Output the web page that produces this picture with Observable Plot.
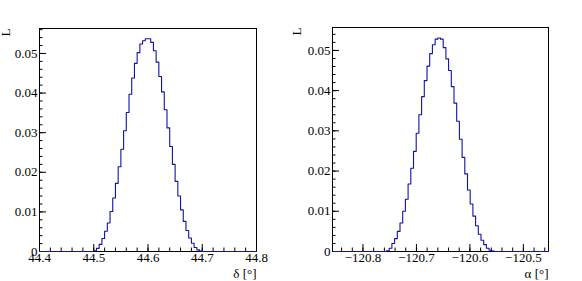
<!DOCTYPE html>
<html><head><meta charset="utf-8">
<script src="https://cdn.jsdelivr.net/npm/d3@7"></script>
<script src="https://cdn.jsdelivr.net/npm/@observablehq/plot@0.6"></script>
<style>
html,body{margin:0;padding:0;background:#fff;}
#wrap{display:flex;width:582px;height:281px;overflow:hidden;}
#wrap svg{display:block;font-family:"Liberation Serif","Times New Roman",serif !important;font-size:13px !important;}
#wrap svg text{font-family:"Liberation Serif","Times New Roman",serif !important;}
</style></head><body><div id="wrap"></div>
<script>
// ---- Left histogram: likelihood vs delta ----
const deltaRange = [44.4, 44.8];
const deltaBinWidth = 0.005;
const deltaBinCount = 80;
const deltaFirstFilledBin = 20;
const deltaL = [0.0002, 0.0008, 0.0018, 0.0033, 0.0051, 0.0072, 0.0101, 0.0135, 0.0172, 0.0214,
                0.0258, 0.0305, 0.0351, 0.0397, 0.0438, 0.0475, 0.0502, 0.0524, 0.0532, 0.0537,
                0.0537, 0.0528, 0.0507, 0.0478, 0.0442, 0.0403, 0.0358, 0.0312, 0.0265, 0.0220,
                0.0177, 0.0140, 0.0105, 0.0076, 0.0053, 0.0034, 0.0021, 0.0010, 0.0004, 0.0001];
const deltaYMax = 0.0563;
const deltaXTicks = [44.4, 44.5, 44.6, 44.7, 44.8];
const deltaXTickLabels = ["44.4", "44.5", "44.6", "44.7", "44.8"];
const deltaTitle = "δ [°]";

// ---- Right histogram: likelihood vs alpha ----
const alphaRange = [-120.857, -120.453];
const alphaBinWidth = 0.00505;
const alphaBinCount = 80;
const alphaFirstFilledBin = 20;
const alphaL = [0.0002, 0.0008, 0.0020, 0.0032, 0.0050, 0.0071, 0.0100, 0.0130, 0.0168, 0.0207,
                0.0249, 0.0294, 0.0340, 0.0385, 0.0425, 0.0461, 0.0492, 0.0514, 0.0528, 0.0531,
                0.0528, 0.0507, 0.0479, 0.0450, 0.0410, 0.0369, 0.0324, 0.0279, 0.0234, 0.0193,
                0.0153, 0.0118, 0.0088, 0.0064, 0.0043, 0.0028, 0.0017, 0.0008, 0.0003, 0.0001];
const alphaYMax = 0.0557;
const alphaXTicks = [-120.8, -120.7, -120.6, -120.5];
const alphaXTickLabels = ["−120.8", "−120.7", "−120.6", "−120.5"];
const alphaTitle = "α [°]";

// ---- shared y axis ----
const yTicks = [0, 0.01, 0.02, 0.03, 0.04, 0.05];
const yTickLabels = ["0", "0.01", "0.02", "0.03", "0.04", "0.05"];
const yTitle = "L";

function buildSeries(lo, w, n, first, values) {
  const out = [];
  for (let k = 0; k <= n; k++) {
    const v = (k < n && k >= first && k - first < values.length) ? values[k - first] : 0;
    out.push({x: lo + k * w, y: v});
  }
  return out;
}

function panel({range, binWidth, binCount, first, values, yMax, xTicks, xTickLabels, title,
                marginLeft, marginRight, marginTop, marginBottom}) {
  const width = 291, height = 281;
  const plotW = width - marginLeft - marginRight;
  const plotH = height - marginTop - marginBottom;
  const series = buildSeries(range[0], binWidth, binCount, first, values);
  const xMinor = d3.ticks(range[0], range[1], 20).filter(t => t >= range[0] && t <= range[1]);
  const yMinor = d3.ticks(0, yMax, 28).filter(t => t <= yMax);
  const xt = xTicks.map((v, i) => ({v, label: xTickLabels[i]}));
  const yt = yTicks.map((v, i) => ({v, label: yTickLabels[i]}));
  const ink = "#000";
  return Plot.plot({
    width, height, marginLeft, marginRight, marginTop, marginBottom,
    style: {fontFamily: "Liberation Serif, serif", fontSize: "13px", background: "#fff", color: "#000"},
    x: {domain: range, axis: null},
    y: {domain: [0, yMax], axis: null},
    marks: [
      Plot.frame({stroke: ink, strokeWidth: 1}),
      Plot.tickX(xMinor, {x: d => d, insetTop: plotH - 3.5, stroke: ink}),
      Plot.tickX(xTicks, {x: d => d, insetTop: plotH - 7, stroke: ink}),
      Plot.tickY(yMinor, {y: d => d, insetRight: plotW - 3.5, stroke: ink}),
      Plot.tickY(yTicks, {y: d => d, insetRight: plotW - 7, stroke: ink}),
      Plot.line(series, {x: "x", y: "y", curve: "step-after", stroke: "#1212a8", strokeWidth: 1.1}),
      Plot.text(xt, {x: "v", text: "label", frameAnchor: "bottom", lineAnchor: "bottom", dy: 10, fill: ink, fontSize: 13}),
      Plot.text(yt, {y: "v", text: "label", frameAnchor: "left", textAnchor: "end", dx: -2, fill: ink, fontSize: 13}),
      Plot.text([title], {text: d => d, frameAnchor: "bottom-right", textAnchor: "end", lineAnchor: "bottom", dy: 26, fill: ink, fontSize: 13}),
      Plot.text([yTitle], {text: d => d, frameAnchor: "top-left", rotate: -90, textAnchor: "end", lineAnchor: "bottom", dx: 9 - marginLeft, fill: ink, fontSize: 13})
    ]
  });
}

const wrap = document.getElementById("wrap");
wrap.append(panel({range: deltaRange, binWidth: deltaBinWidth, binCount: deltaBinCount, first: deltaFirstFilledBin,
  values: deltaL, yMax: deltaYMax, xTicks: deltaXTicks, xTickLabels: deltaXTickLabels, title: deltaTitle,
  marginLeft: 39, marginRight: 35, marginTop: 28, marginBottom: 30}));
wrap.append(panel({range: alphaRange, binWidth: alphaBinWidth, binCount: alphaBinCount, first: alphaFirstFilledBin,
  values: alphaL, yMax: alphaYMax, xTicks: alphaXTicks, xTickLabels: alphaXTickLabels, title: alphaTitle,
  marginLeft: 41, marginRight: 34, marginTop: 27, marginBottom: 30}));
</script>
</body></html>
